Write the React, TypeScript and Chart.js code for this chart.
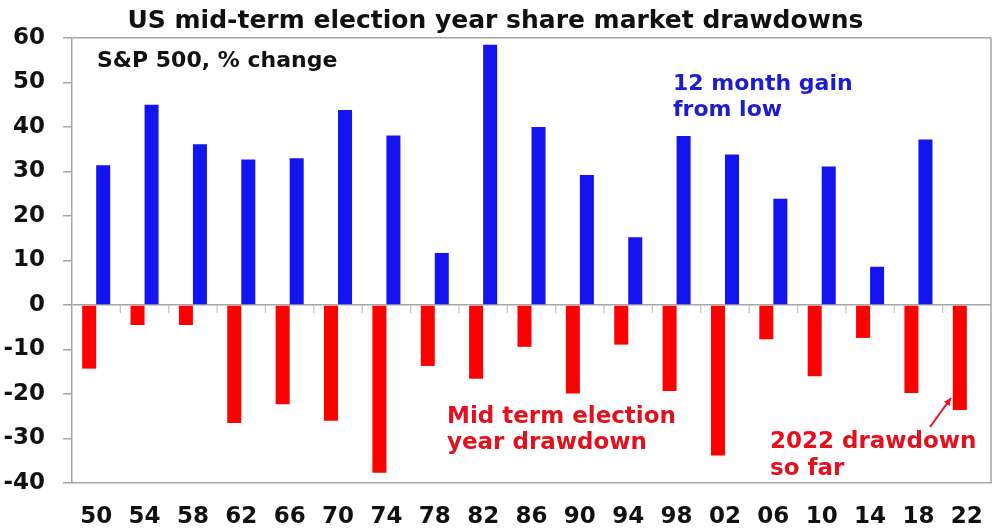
import React, { useEffect, useRef } from "react";
import { Chart, registerables } from "chart.js";

Chart.register(...registerables);

const years = ["50", "54", "58", "62", "66", "70", "74", "78", "82", "86", "90", "94", "98", "02", "06", "10", "14", "18", "22"];
const drawdown = [-14.3, -4.5, -4.5, -26.5, -22.3, -26.0, -37.7, -13.7, -16.6, -9.4, -19.9, -8.9, -19.3, -33.8, -7.7, -16.0, -7.4, -19.8, -23.6];
const gain = [31.4, 45.0, 36.1, 32.7, 33.0, 43.8, 38.1, 11.7, 58.5, 40.0, 29.2, 15.2, 38.0, 33.8, 23.9, 31.1, 8.6, 37.2, null];
const yTicks = [-40, -30, -20, -10, 0, 10, 20, 30, 40, 50, 60];

const FONT = "'DejaVu Sans', 'Liberation Sans', Arial, sans-serif";
const GRAY = "#a6a6a6";

const framePlugin = {
  id: "frame",
  afterDraw(chart: any) {
    const { ctx, chartArea, scales } = chart;
    const x = scales.x;
    const y = scales.y;
    const y0 = y.getPixelForValue(0);
    ctx.save();
    // right border
    ctx.strokeStyle = GRAY;
    ctx.lineWidth = 1.5;
    ctx.beginPath();
    ctx.moveTo(chartArea.right, chartArea.top);
    ctx.lineTo(chartArea.right, chartArea.bottom);
    ctx.stroke();
    // boundary ticks on zero line
    ctx.strokeStyle = "#c0c0c0";
    ctx.lineWidth = 1.2;
    const half = (x.getPixelForValue(1) - x.getPixelForValue(0)) / 2;
    for (let i = 1; i < years.length; i++) {
      const px = x.getPixelForValue(i) - half;
      ctx.beginPath();
      ctx.moveTo(px, y0);
      ctx.lineTo(px, y0 + 8);
      ctx.stroke();
    }
    // annotations
    ctx.textAlign = "left";
    ctx.textBaseline = "alphabetic";
    ctx.fillStyle = "#111111";
    ctx.font = `bold 22px ${FONT}`;
    ctx.fillText("S&P 500, % change", 97, 67);

    ctx.fillStyle = "#1c1cd4";
    ctx.font = `bold 22px ${FONT}`;
    ctx.fillText("12 month gain", 673, 90);
    ctx.fillText("from low", 673, 116);

    ctx.fillStyle = "#e3101e";
    ctx.font = `bold 23px ${FONT}`;
    ctx.fillText("Mid term election", 447, 423);
    ctx.fillText("year drawdown", 447, 449);
    ctx.fillText("2022 drawdown", 770, 448);
    ctx.fillText("so far", 770, 475);

    // arrow
    const ax0 = 930, ay0 = 427, ax1 = 951, ay1 = 398;
    ctx.strokeStyle = "#e3101e";
    ctx.lineWidth = 2;
    ctx.beginPath();
    ctx.moveTo(ax0, ay0);
    ctx.lineTo(ax1, ay1);
    ctx.stroke();
    const ang = Math.atan2(ay1 - ay0, ax1 - ax0);
    const hl = 8;
    ctx.fillStyle = "#e3101e";
    ctx.beginPath();
    ctx.moveTo(ax1, ay1);
    ctx.lineTo(ax1 - hl * Math.cos(ang - 0.45), ay1 - hl * Math.sin(ang - 0.45));
    ctx.lineTo(ax1 - hl * Math.cos(ang + 0.45), ay1 - hl * Math.sin(ang + 0.45));
    ctx.closePath();
    ctx.fill();
    ctx.restore();
  },
};

export default function App() {
  const ref = useRef<HTMLCanvasElement | null>(null);
  useEffect(() => {
    if (!ref.current) return;
    const chart = new Chart(ref.current, {
      type: "bar",
      data: {
        labels: years,
        datasets: [
          {
            label: "Mid term election year drawdown",
            data: drawdown,
            backgroundColor: "#ff0000",
            borderWidth: 0,
          },
          {
            label: "12 month gain from low",
            data: gain as any,
            backgroundColor: "#1414f0",
            borderWidth: 0,
          },
        ],
      },
      options: {
        animation: false,
        responsive: true,
        maintainAspectRatio: false,
        layout: { padding: { top: 0, right: 9, left: 0, bottom: 0 } },
        datasets: { bar: { categoryPercentage: 0.58, barPercentage: 1.0 } } as any,
        plugins: {
          legend: { display: false },
          tooltip: { enabled: false },
          title: {
            display: true,
            text: "US mid-term election year share market drawdowns",
            color: "#111111",
            font: { family: FONT, size: 25, weight: "bold" },
            padding: { top: 6, bottom: 2 },
          },
        },
        scales: {
          x: {
            grid: { display: false },
            border: { display: true, color: GRAY, width: 1.5 },
            ticks: {
              color: "#111111",
              font: { family: FONT, size: 23, weight: "bold" },
              padding: 12,
              maxRotation: 0,
              autoSkip: false,
            },
            afterFit: (s: any) => {
              s.height = 49;
            },
          },
          y: {
            min: -40,
            max: 60,
            afterBuildTicks: (s: any) => {
              s.ticks = yTicks.map((v) => ({ value: v }));
            },
            grid: {
              color: (c: any) => (c.tick && (c.tick.value === 0 || c.tick.value === 60) ? GRAY : "rgba(0,0,0,0)"),
              tickColor: GRAY,
              tickLength: 9,
              lineWidth: 1.5,
            },
            border: { display: true, color: GRAY, width: 1.5 },
            ticks: {
              color: "#111111",
              font: { family: FONT, size: 23, weight: "bold" },
              padding: 18,
            },
            afterFit: (s: any) => {
              s.width = 72;
            },
          },
        },
      },
      plugins: [framePlugin],
    });
    return () => chart.destroy();
  }, []);
  return (
    <div style={{ position: "absolute", left: 0, top: 0, width: 1000, height: 532, background: "#ffffff" }}>
      <canvas ref={ref} />
    </div>
  );
}
